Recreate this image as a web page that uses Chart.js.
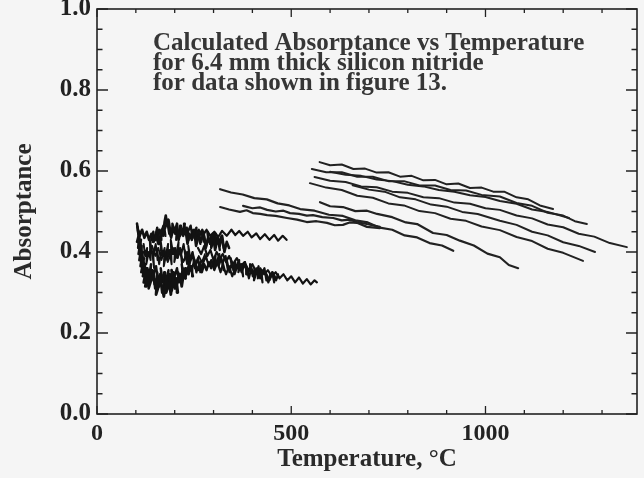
<!DOCTYPE html>
<html><head><meta charset="utf-8">
<script src="https://cdn.jsdelivr.net/npm/chart.js@4/dist/chart.umd.min.js"></script>
<style>html,body{margin:0;padding:0;background:#f5f5f5;}canvas{display:block;}</style>
</head><body>
<canvas id="c" width="644" height="478"></canvas>
<script>
// ---- axis ticks ----
const xTickValues = [0, 500, 1000];
const xMinorTicks = [100, 200, 300, 400, 600, 700, 800, 900, 1100, 1200, 1300];
const yTickValues = [0.0, 0.2, 0.4, 0.6, 0.8, 1.0];
const yMinorTicks = [0.05, 0.1, 0.15, 0.25, 0.3, 0.35, 0.45, 0.5, 0.55, 0.65, 0.7, 0.75, 0.85, 0.9, 0.95];
const annotationLines = ["Calculated Absorptance vs Temperature", "for 6.4 mm thick silicon nitride", "for data shown in figure 13."];

// ---- low-temperature noisy cluster ----
const blobLT = [104,108,103,110,106,113,107,115,109,118,112,121,114,124,118,127,120,130,124,133,127,136,130,138,133,141];
const blobLA = [0.462,0.44,0.425,0.45,0.41,0.43,0.395,0.415,0.38,0.40,0.365,0.385,0.35,0.37,0.34,0.36,0.325,0.35,0.315,0.34,0.33,0.355,0.32,0.345,0.31,0.335];
const blobL2T = [103,107,105,110,108,113,111,116,114,119,117,122,120,125,123,128,126,131,129,134];
const blobL2A = [0.47,0.445,0.455,0.42,0.44,0.40,0.425,0.385,0.41,0.365,0.39,0.345,0.375,0.33,0.36,0.315,0.345,0.33,0.35,0.32];
const blobULT = [110,116,122,128,134,140,146,152,158,164];
const blobULA = [0.44,0.455,0.435,0.45,0.43,0.445,0.425,0.44,0.42,0.435];
const blobBT = [140,146,150,155,152,160,163,168,165,172,176,180,178,186,190,195,192,200,204,208,206,214,218,222,220,228];
const blobBA = [0.33,0.35,0.31,0.335,0.295,0.32,0.345,0.30,0.325,0.29,0.315,0.34,0.30,0.325,0.295,0.33,0.355,0.31,0.335,0.30,0.325,0.345,0.315,0.34,0.36,0.335];
const blobUT = [190,195,200,206,210,216,222,227,233,238,244,250,255,262,268,274,280,286,292,298,304,310,316,322,328,334,340];
const blobUA = [0.44,0.465,0.45,0.47,0.43,0.455,0.44,0.46,0.42,0.445,0.43,0.455,0.415,0.44,0.425,0.45,0.41,0.435,0.42,0.445,0.405,0.43,0.415,0.44,0.40,0.425,0.41];
const blobST = [150,156,160,166,170,174,177,180,184,188,192];
const blobSA = [0.43,0.445,0.42,0.455,0.44,0.475,0.49,0.47,0.48,0.455,0.445];
const blobMT = [135,142,150,158,166,174,182,190,198,206,214,222,230,238,246,254,262,270,278];
const blobMA = [0.40,0.415,0.39,0.41,0.38,0.405,0.375,0.395,0.41,0.385,0.40,0.375,0.395,0.38,0.40,0.37,0.39,0.375,0.395];
const blobX1T = [120,124,129,127,133,138,136,142,147,145,151,156,154,160,165,163,169,174,172,178,183,181,187,192,190,196,201,199,205,210,208,214,219,217,223,228,226,232,237,235,241,246];
const blobX1A = [0.42,0.39,0.41,0.37,0.40,0.38,0.43,0.40,0.36,0.39,0.42,0.38,0.41,0.37,0.40,0.435,0.39,0.41,0.365,0.395,0.42,0.38,0.405,0.37,0.43,0.395,0.41,0.375,0.40,0.425,0.385,0.41,0.37,0.395,0.42,0.385,0.405,0.37,0.395,0.415,0.38,0.40];
const blobX2T = [130,134,139,137,143,148,146,152,157,155,161,166,164,170,175,173,179,184,182,188,193,191,197,202,200,206,211,209,215,220,218,224,229,227,233,238,236,242,247,245,251,256,254,260,266,270,276,282,288,294,300];
const blobX2A = [0.36,0.34,0.37,0.33,0.355,0.32,0.345,0.365,0.33,0.35,0.315,0.34,0.36,0.325,0.35,0.31,0.335,0.355,0.32,0.345,0.305,0.33,0.35,0.315,0.34,0.36,0.325,0.35,0.33,0.355,0.37,0.34,0.36,0.335,0.355,0.375,0.345,0.365,0.34,0.36,0.38,0.35,0.37,0.355,0.375,0.35,0.37,0.355,0.375,0.36,0.38];
const blobX3T = [140,145,143,150,155,153,160,166,164,171,176,174,181,186,184,191,196,194,201,206,204,211,216,214,221,226,224,231,236,234,241,246,244,251,256,254,261,266,264,271,276,274,281,286,284,291,296,294,301,306,304,311,316,314,321,326];
const blobX3A = [0.43,0.45,0.425,0.44,0.46,0.435,0.455,0.43,0.445,0.465,0.44,0.455,0.475,0.445,0.46,0.435,0.455,0.47,0.445,0.46,0.43,0.45,0.465,0.44,0.455,0.47,0.445,0.46,0.43,0.45,0.465,0.435,0.455,0.44,0.46,0.43,0.45,0.42,0.44,0.455,0.425,0.445,0.415,0.435,0.45,0.42,0.44,0.41,0.43,0.445,0.415,0.435,0.405,0.425,0.44,0.41];
const blobX4T = [300,305,303,310,315,313,320,326,324,331,336,334,341,346,344,351,356,354,361,366,364,371,376,374,381,386,384,391,396,394,401,406,404,411,416,414,421,426,424,431,436,434,441,446,444,451,456,454,461,466];
const blobX4A = [0.37,0.39,0.36,0.38,0.395,0.365,0.385,0.355,0.375,0.39,0.36,0.38,0.35,0.37,0.385,0.355,0.375,0.345,0.365,0.38,0.35,0.37,0.34,0.36,0.375,0.345,0.365,0.335,0.355,0.37,0.34,0.36,0.33,0.35,0.365,0.335,0.355,0.325,0.345,0.36,0.33,0.35,0.325,0.345,0.335,0.35,0.325,0.34,0.33,0.345];
const blobRT = [225,232,238,246,252,260,266,274,280,288,294,302,310,318,324,332,340,348,356,364,372,380,388,396,404,412,420,428,436,444,452,460,468];
const blobRA = [0.38,0.40,0.37,0.395,0.36,0.385,0.35,0.375,0.39,0.365,0.38,0.355,0.375,0.35,0.37,0.345,0.365,0.34,0.36,0.375,0.35,0.37,0.345,0.365,0.34,0.36,0.335,0.355,0.345,0.33,0.35,0.335,0.34];
const blobR2T = [260,268,276,284,292,300,308,316,324,332,340,350,360,370,380,390,400,410,420,430,440,450,460,470,480,490,500,510,520,530,540,550,560,566];
const blobR2A = [0.41,0.395,0.415,0.39,0.405,0.38,0.40,0.385,0.395,0.375,0.39,0.37,0.385,0.365,0.375,0.355,0.37,0.35,0.36,0.345,0.355,0.34,0.35,0.335,0.345,0.33,0.34,0.325,0.337,0.322,0.333,0.32,0.33,0.325];
const blobTT = [250,262,272,282,292,302,312,322,334,346,356,366,376,388,398,410,420,432,444,456,466,478,488];
const blobTA = [0.44,0.455,0.44,0.455,0.44,0.45,0.437,0.452,0.44,0.455,0.442,0.452,0.44,0.45,0.436,0.446,0.432,0.444,0.43,0.442,0.428,0.44,0.43];

// ---- mid-temperature runs ----
const runAT = [317,345,375,405,437,465,495,523,560,597,633,665,697,728,760,792,824,856,888,917];
const runAA = [0.555,0.547,0.542,0.533,0.530,0.520,0.515,0.506,0.502,0.492,0.489,0.478,0.473,0.460,0.455,0.441,0.436,0.422,0.416,0.403];
const runBT = [574,600,633,665,695,721,760,795,824,865,900,934,970,1005,1037,1060,1084];
const runBA = [0.523,0.513,0.511,0.501,0.502,0.494,0.486,0.473,0.469,0.447,0.442,0.428,0.416,0.396,0.387,0.368,0.360];
const runP1T = [317,340,368,385,401,420,438,460,489,515,540,565,592,612,633,650,669,695,728];
const runP1A = [0.511,0.505,0.499,0.503,0.496,0.494,0.491,0.489,0.484,0.480,0.474,0.476,0.472,0.466,0.467,0.473,0.472,0.462,0.459];
const runP2T = [376,400,420,438,460,480,497,520,540,556,580,608,630,650,669,700,728];
const runP2A = [0.514,0.508,0.510,0.504,0.500,0.502,0.496,0.494,0.490,0.491,0.486,0.484,0.478,0.480,0.474,0.468,0.462];

// ---- high-temperature runs ----
const hiAT = [573,600,630,660,690,720,750,780,810,840,870,900,930,960,990,1020,1048,1080,1110,1140,1174];
const hiAA = [0.622,0.614,0.616,0.605,0.606,0.596,0.597,0.586,0.588,0.577,0.578,0.567,0.569,0.558,0.559,0.549,0.549,0.535,0.530,0.515,0.506];
const hiBT = [553,590,630,670,710,750,790,830,870,910,950,990,1037,1080,1120,1160,1200,1230,1261];
const hiBA = [0.605,0.597,0.597,0.586,0.586,0.575,0.575,0.564,0.564,0.553,0.552,0.541,0.537,0.521,0.514,0.497,0.490,0.476,0.469];
const hiCT = [600,640,680,720,760,800,840,880,920,960,1000,1037,1080,1120,1160,1215];
const hiCA = [0.598,0.591,0.588,0.579,0.575,0.566,0.562,0.553,0.549,0.540,0.536,0.526,0.519,0.505,0.499,0.484];
const hiDT = [560,600,640,680,720,760,800,840,880,920,960,1000,1037,1080,1120,1160,1200,1240,1280,1320,1364];
const hiDA = [0.585,0.576,0.573,0.562,0.560,0.549,0.546,0.535,0.533,0.522,0.519,0.508,0.504,0.490,0.483,0.468,0.461,0.445,0.438,0.422,0.412];
const hiET = [658,700,740,780,820,860,900,940,980,1037,1080,1120,1160,1200,1240,1282];
const hiEA = [0.565,0.554,0.549,0.535,0.530,0.517,0.512,0.499,0.494,0.477,0.467,0.450,0.441,0.424,0.415,0.400];
const hiFT = [548,590,630,670,710,750,790,830,870,910,950,990,1037,1080,1120,1160,1200,1251];
const hiFA = [0.570,0.559,0.553,0.539,0.534,0.520,0.515,0.501,0.496,0.482,0.477,0.463,0.454,0.437,0.427,0.408,0.398,0.378];

const SERIF = '"Liberation Serif","Times New Roman",serif';
const INK = '#222222';
const BLOB = '#121212';

const series = [
  [blobLT, blobLA, BLOB, 2.6], [blobL2T, blobL2A, BLOB, 2.6], [blobULT, blobULA, BLOB, 2.6],
  [blobBT, blobBA, BLOB, 2.8], [blobUT, blobUA, BLOB, 2.6], [blobST, blobSA, BLOB, 2.6],
  [blobMT, blobMA, BLOB, 1.8], [blobX1T, blobX1A, BLOB, 2.0], [blobX2T, blobX2A, BLOB, 2.4],
  [blobX3T, blobX3A, BLOB, 2.4], [blobX4T, blobX4A, BLOB, 2.2],
  [blobRT, blobRA, BLOB, 2.2], [blobR2T, blobR2A, BLOB, 2.2], [blobTT, blobTA, BLOB, 2.2],
  [runAT, runAA, INK, 2.2], [runBT, runBA, INK, 2.2], [runP1T, runP1A, INK, 2.2], [runP2T, runP2A, INK, 2.2],
  [hiAT, hiAA, INK, 2], [hiBT, hiBA, INK, 2], [hiCT, hiCA, INK, 2],
  [hiDT, hiDA, INK, 2], [hiET, hiEA, INK, 2], [hiFT, hiFA, INK, 2]
];

const datasets = series.map(([T, A, col, w]) => ({
  data: T.map((t, i) => ({x: t, y: A[i]})),
  showLine: true, borderColor: col, borderWidth: w,
  pointRadius: 0, pointHoverRadius: 0, fill: false, tension: 0,
  borderJoinStyle: 'round', borderCapStyle: 'round'
}));

const frame = {
  id: 'frame',
  afterDatasetsDraw(chart) {
    const {ctx, chartArea: {left, right, top, bottom}, scales: {x, y}} = chart;
    ctx.save();
    ctx.strokeStyle = INK;
    ctx.lineWidth = 1.6;
    ctx.strokeRect(left, top, right - left, bottom - top);
    ctx.lineWidth = 1.3;
    ctx.beginPath();
    const seg = (x1, y1, x2, y2) => { ctx.moveTo(x1, y1); ctx.lineTo(x2, y2); };
    const xt = (v, L) => { const p = x.getPixelForValue(v); seg(p, bottom, p, bottom - L); seg(p, top, p, top + L); };
    const yt = (v, L) => { const p = y.getPixelForValue(v); seg(left, p, left + L, p); seg(right, p, right - L, p); };
    xTickValues.forEach(v => xt(v, 8));
    xMinorTicks.forEach(v => xt(v, 4));
    yTickValues.forEach(v => yt(v, 11));
    yMinorTicks.forEach(v => yt(v, 5.5));
    ctx.stroke();
    ctx.restore();
  },
  afterDraw(chart) {
    const {ctx} = chart;
    ctx.save();
    ctx.fillStyle = '#363636';
    ctx.font = 'bold 25px ' + SERIF;
    ctx.textAlign = 'left';
    ctx.textBaseline = 'alphabetic';
    annotationLines.forEach((s, i) => ctx.fillText(s, 153, 50 + i * 20));
    ctx.restore();
  }
};

new Chart(document.getElementById('c'), {
  type: 'scatter',
  data: {datasets},
  options: {
    responsive: false, animation: false, events: [],
    layout: {padding: {left: 0, right: 7, top: 9, bottom: 0}},
    plugins: {legend: {display: false}, tooltip: {enabled: false}},
    scales: {
      x: {
        type: 'linear', min: 0, max: 1390,
        afterBuildTicks: s => { s.ticks = xTickValues.map(v => ({value: v})); },
        afterFit: s => { s.height = 64; s.paddingLeft = 0; s.paddingRight = 0; },
        grid: {display: false, drawTicks: false}, border: {display: false},
        ticks: {padding: 8, color: '#222', autoSkip: false, maxRotation: 0,
                callback: v => String(v),
                font: {family: SERIF, size: 24, weight: 'bold', lineHeight: 1}},
        title: {display: true, text: 'Temperature, °C', color: '#2a2a2a',
                font: {family: SERIF, size: 25, weight: 'bold', lineHeight: 1},
                padding: {top: 0, bottom: 6}}
      },
      y: {
        type: 'linear', min: 0, max: 1.0,
        afterBuildTicks: s => { s.ticks = yTickValues.map(v => ({value: v})); },
        afterFit: s => { s.width = 97; s.paddingTop = 0; s.paddingBottom = 0; },
        grid: {display: false, drawTicks: false}, border: {display: false},
        ticks: {padding: 6, color: '#222', autoSkip: false,
                callback: v => Number(v).toFixed(1),
                font: {family: SERIF, size: 25, weight: 'bold', lineHeight: 1}},
        title: {display: true, text: 'Absorptance', color: '#2a2a2a',
                font: {family: SERIF, size: 25, weight: 'bold', lineHeight: 1},
                padding: {top: 12, bottom: 0}}
      }
    }
  },
  plugins: [frame]
});
</script>
</body></html>
